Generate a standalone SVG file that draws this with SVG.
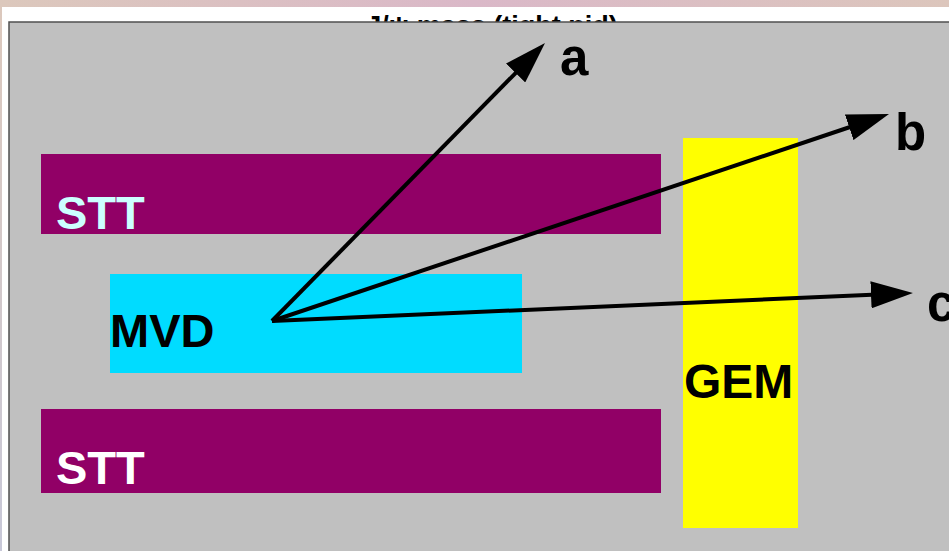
<svg xmlns="http://www.w3.org/2000/svg" width="949" height="551" viewBox="0 0 949 551">
  <defs>
    <linearGradient id="band" x1="0" y1="0" x2="1" y2="0">
      <stop offset="0" stop-color="#dcc8bc"/>
      <stop offset="0.5" stop-color="#dab8c8"/>
      <stop offset="1" stop-color="#dcc6bc"/>
    </linearGradient>
    <linearGradient id="side" x1="0" y1="0" x2="0" y2="1">
      <stop offset="0" stop-color="#dcc8bc"/>
      <stop offset="1" stop-color="#c8c8d8"/>
    </linearGradient>
    <clipPath id="titleClip"><rect x="0" y="0" width="949" height="22"/></clipPath>
    <marker id="head" viewBox="0 0 42 27" refX="1" refY="13.5" markerWidth="42" markerHeight="27" markerUnits="userSpaceOnUse" orient="auto">
      <path d="M0,0 L42,13.5 L0,27 Z" fill="#000"/>
    </marker>
    <style>
      .lbl { font-family: "Liberation Sans", Arial, sans-serif; font-weight: bold; }
      .big { font-size: 47px; }
      .arrow { stroke: #000; stroke-width: 4; fill: none; marker-end: url(#head); }
      .letter { font-size: 51px; fill: #000; }
    </style>
  </defs>
  <rect x="0" y="0" width="949" height="551" fill="#ffffff"/>
  <rect x="0" y="0" width="949" height="7" fill="url(#band)"/>
  <rect x="0" y="0" width="2" height="551" fill="url(#side)"/>
  <g clip-path="url(#titleClip)">
    <text class="lbl" x="492" y="35" font-size="27" text-anchor="middle" fill="#000">J/ψ mass (tight pid)</text>
  </g>
  <rect x="9" y="22" width="945" height="535" fill="#c0c0c0" stroke="#505050" stroke-width="1.5"/>

  <g id="stt-top">
    <rect x="41" y="154" width="620" height="80" fill="#910066"/>
    <text class="lbl big" x="56" y="229" fill="#ccffff">STT</text>
  </g>
  <g id="stt-bottom">
    <rect x="41" y="409" width="620" height="84" fill="#910066"/>
    <text class="lbl big" x="56" y="484" fill="#ffffff">STT</text>
  </g>
  <g id="mvd">
    <rect x="110" y="274" width="412" height="99" fill="#00dcff"/>
    <text class="lbl" x="110" y="347" font-size="47" fill="#000">MVD</text>
  </g>
  <g id="gem">
    <rect x="683" y="138" width="115" height="390" fill="#ffff00"/>
    <text class="lbl" x="684" y="398" font-size="48" fill="#000">GEM</text>
  </g>

  <g id="connectors">
    <path class="arrow" d="M272,321 L516.3,72.3"/>
    <path class="arrow" d="M272,321 L850.1,127"/>
    <path class="arrow" d="M272,321 L872,294.8"/>
  </g>
  <g id="labels">
    <text class="lbl letter" x="560" y="75">a</text>
    <text class="lbl letter" x="895" y="150">b</text>
    <text class="lbl letter" x="927" y="321">c</text>
  </g>
</svg>
